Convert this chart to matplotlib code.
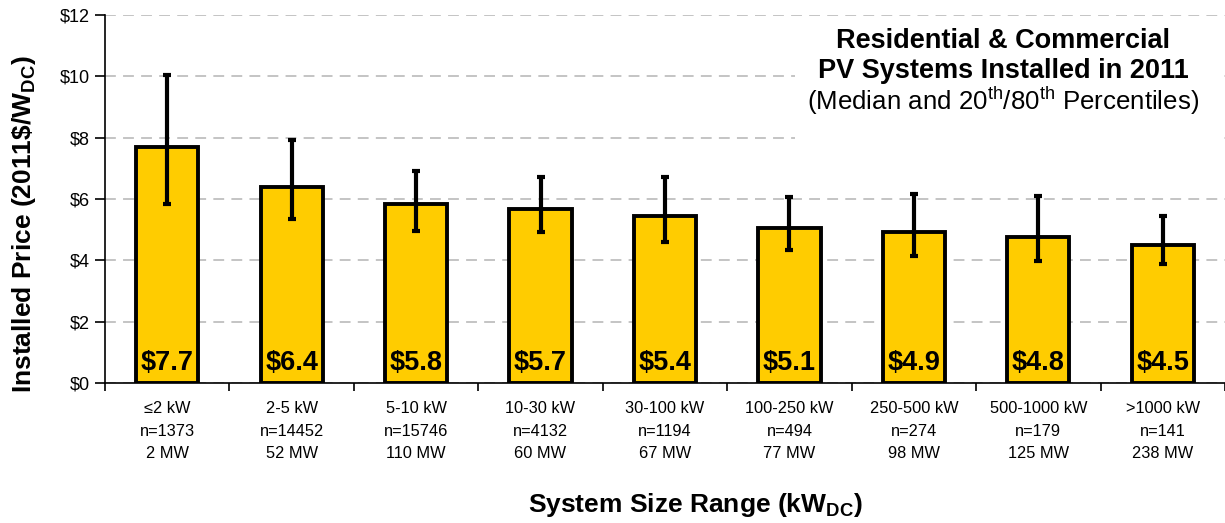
import matplotlib
matplotlib.use("Agg")
import matplotlib.pyplot as plt
from matplotlib.patches import Rectangle
import numpy as np

categories = ["\u22642 kW", "2-5 kW", "5-10 kW", "10-30 kW", "30-100 kW",
              "100-250 kW", "250-500 kW", "500-1000 kW", ">1000 kW"]
counts = ["n=1373", "n=14452", "n=15746", "n=4132", "n=1194",
          "n=494", "n=274", "n=179", "n=141"]
capacity = ["2 MW", "52 MW", "110 MW", "60 MW", "67 MW",
            "77 MW", "98 MW", "125 MW", "238 MW"]
median = [7.7, 6.4, 5.85, 5.67, 5.44, 5.05, 4.92, 4.77, 4.5]
median_labels = ["$7.7", "$6.4", "$5.8", "$5.7", "$5.4", "$5.1", "$4.9", "$4.8", "$4.5"]
p20 = [5.83, 5.35, 4.97, 4.92, 4.6, 4.34, 4.15, 3.98, 3.88]
p80 = [10.04, 7.92, 6.92, 6.72, 6.72, 6.07, 6.16, 6.1, 5.44]
yticks = [0, 2, 4, 6, 8, 10, 12]

plt.rcParams['font.family'] = ['Liberation Sans', 'DejaVu Sans']
plt.rcParams['mathtext.default'] = 'regular'

fig = plt.figure(figsize=(12.25, 5.23), dpi=100)
ax = fig.add_axes([105/1225, 140/523, 1 - 105/1225, 368/523])

x = np.arange(len(categories))
med = np.array(median)
yerr = np.vstack([med - np.array(p20), np.array(p80) - med])

ax.bar(x, med, width=0.5, color="#FFCC00", edgecolor="black", linewidth=2.8, zorder=3)
ax.errorbar(x, med, yerr=yerr, fmt="none", ecolor="black", elinewidth=3,
            capsize=3, capthick=3, zorder=4)

for xi, lab in zip(x, median_labels):
    ax.text(xi, 0.42, lab, ha="center", va="baseline", fontsize=19.5,
            fontweight="bold", zorder=5)

ax.set_xlim(-0.5, len(categories) - 0.5)
ax.set_ylim(0, 12)
ax.set_yticks(yticks)
ax.set_yticklabels([f"${v}" for v in yticks], fontsize=13)
ax.yaxis.grid(True, linestyle=(0, (6, 4)), color="#BFBFBF", linewidth=1.3, zorder=0)
ax.set_axisbelow(True)

ax.set_xticks(np.arange(len(categories) + 1) - 0.5)
ax.set_xticklabels([])
ax.tick_params(axis="x", direction="out", length=6, width=1.2)
ax.tick_params(axis="y", direction="out", length=7, width=1.2, pad=4)
for xi in x:
    ax.text(xi, -0.6, f"{categories[xi]}\n{counts[xi]}\n{capacity[xi]}",
            ha="center", va="top", fontsize=11.8, linespacing=1.62,
            family=['Liberation Sans Narrow', 'Liberation Sans', 'DejaVu Sans'],
            transform=ax.transData, clip_on=False)

for s in ["top", "right"]:
    ax.spines[s].set_visible(False)
ax.spines["left"].set_linewidth(1.2)
ax.spines["bottom"].set_linewidth(1.2)

fig.text(24/1225, 1 - 224/523, r"Installed Price (2011\$/W$_{\mathregular{DC}}$)",
         rotation=90, ha="center", va="center", fontsize=19, fontweight="bold")
fig.text(695/1225, 1 - 505/523, r"System Size Range (kW$_{\mathregular{DC}}$)",
         ha="center", va="center", fontsize=19, fontweight="bold")

# white title box covering gridlines
ax.add_patch(Rectangle((0.616, 0.64), 0.378, 0.335, transform=ax.transAxes,
                       facecolor="white", edgecolor="none", zorder=1))
ax.text(0.802, 0.929, "Residential & Commercial", transform=ax.transAxes,
        ha="center", va="center", fontsize=19.5, fontweight="bold", zorder=6)
ax.text(0.802, 0.848, "PV Systems Installed in 2011", transform=ax.transAxes,
        ha="center", va="center", fontsize=19.5, fontweight="bold", zorder=6)
ax.text(0.802, 0.766,
        r"(Median and 20$^{\mathregular{th}}$/80$^{\mathregular{th}}$ Percentiles)",
        transform=ax.transAxes, ha="center", va="center", fontsize=18.6, zorder=6)

fig.savefig("out.png", dpi=100)
